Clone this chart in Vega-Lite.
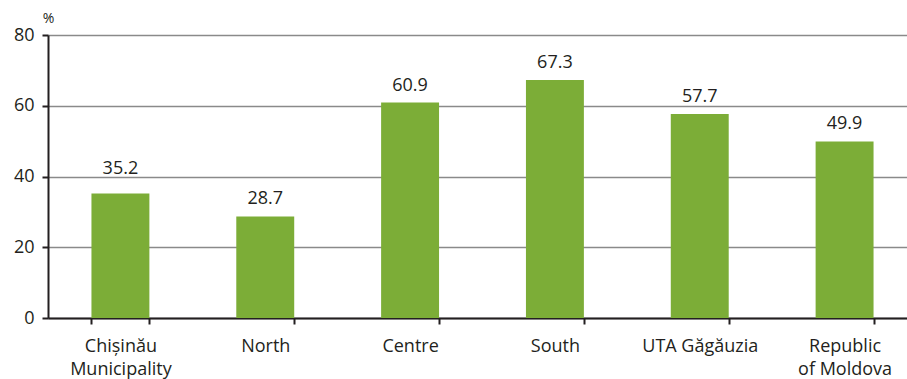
{
  "$schema": "https://vega.github.io/schema/vega-lite/v6.json",
  "width": 859,
  "height": 283,
  "autosize": {"type": "none"},
  "padding": {"left": 48, "top": 35, "right": 0, "bottom": 61},
  "background": "white",
  "config": {"view": {"stroke": null}, "font": "Open Sans"},
  "data": {"values": [
    {"region": "Chișinău Municipality", "value": 35.2},
    {"region": "North", "value": 28.7},
    {"region": "Centre", "value": 60.9},
    {"region": "South", "value": 67.3},
    {"region": "UTA Găgăuzia", "value": 57.7},
    {"region": "Republic of Moldova", "value": 49.9}
  ]},
  "encoding": {
    "x": {"field": "region", "type": "nominal", "sort": null,
      "scale": {"range": [0, 869], "paddingInner": 0.6, "paddingOuter": 0.3},
      "axis": {"title": null, "labelAngle": 0, "domainColor": "#231f20", "domainWidth": 2,
        "tickColor": "#231f20", "tickWidth": 2, "tickSize": 6, "tickBand": "extent",
        "labelFont": "Open Sans", "labelFontSize": 18, "labelColor": "#231f20", "labelPadding": 13,
        "labelLineHeight": 23,
        "labelExpr": "datum.value == 'Chișinău Municipality' ? ['Chișinău','Municipality'] : datum.value == 'Republic of Moldova' ? ['Republic','of Moldova'] : datum.value"}},
    "y": {"field": "value", "type": "quantitative",
      "scale": {"domain": [0, 80]},
      "axis": {"values": [0, 20, 40, 60, 80], "title": "%", "titleAngle": 0, "titleX": 0, "titleY": -17,
        "titleAlign": "center", "titleBaseline": "middle", "titleFont": "Open Sans", "titleFontSize": 14,
        "titleFontWeight": "normal", "titleColor": "#231f20",
        "domainColor": "#231f20", "domainWidth": 2, "tickColor": "#231f20", "tickWidth": 2, "tickSize": 6,
        "labelFont": "Open Sans", "labelFontSize": 18, "labelColor": "#231f20", "labelPadding": 8,
        "grid": true, "gridColor": "#8a8a8a", "gridWidth": 1.5}}
  },
  "layer": [
    {"mark": {"type": "bar", "color": "#7cad37"}},
    {"transform": [{"filter": "datum.region != 'Chișinău Municipality'"}],
     "mark": {"type": "text", "baseline": "alphabetic", "dy": -12, "font": "Open Sans", "fontSize": 18, "color": "#231f20"},
     "encoding": {"text": {"field": "value", "type": "quantitative", "format": ".1f"}}},
    {"transform": [{"filter": "datum.region == 'Chișinău Municipality'"}],
     "mark": {"type": "text", "baseline": "alphabetic", "dy": -19, "font": "Open Sans", "fontSize": 18, "color": "#231f20"},
     "encoding": {"text": {"field": "value", "type": "quantitative", "format": ".1f"}}}
  ]
}
